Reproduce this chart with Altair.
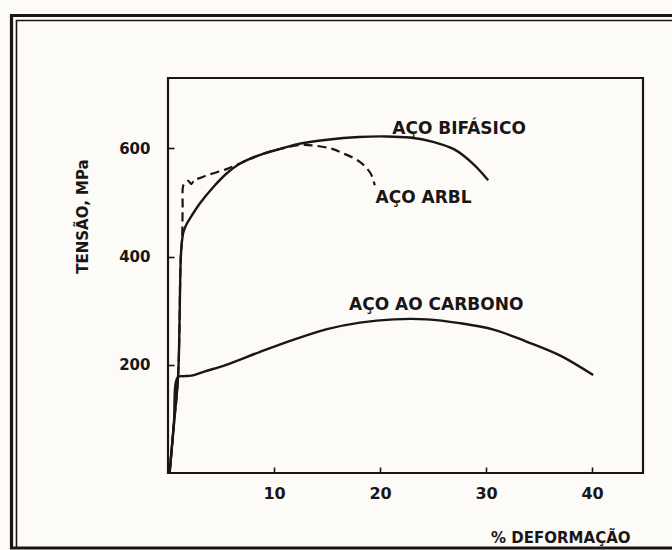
import altair as alt
import pandas as pd

# --- data (x = % deformação, y = tensão MPa) ---
carbon_x = [0.15, 0.55, 0.92, 1.5, 2.2, 3.5, 5.5, 8.7, 11.8, 15.0, 18.1, 21.3, 24.4, 27.5, 30.7, 33.8, 37.0, 40.1]
carbon_y = [0, 89, 177, 179, 180, 188, 200, 224, 246, 266, 278, 284, 284, 277, 265, 243, 217, 181]

bif_x = [0.15, 0.55, 0.95, 1.2, 1.3, 1.45, 1.7, 2.06, 3.0, 4.3, 5.5, 6.8, 8.7, 10.6, 12.5, 15.0, 18.0, 20.5, 22.8, 25.0, 27.0, 28.8, 30.2]
bif_y = [0, 89, 178, 395, 425, 445, 458, 470, 498, 529, 553, 572, 588, 599, 609, 616, 621, 622, 620, 612, 598, 571, 541]

arbl_x = [0.15, 0.55, 0.95, 1.2, 1.33, 1.38, 1.42, 1.6, 1.9, 2.2, 2.5, 3.0, 3.8, 5.6, 7.0, 8.7, 10.6, 12.5, 13.8, 15.3, 16.5, 18.1, 19.1, 19.5]
arbl_y = [0, 89, 178, 395, 435, 490, 530, 536, 540, 534, 542, 545, 551, 562, 574, 588, 599, 606, 605, 600, 591, 575, 554, 532]

x_ticks = [10, 20, 30, 40]
y_ticks = [200, 400, 600]

lab_text = ["AÇO BIFÁSICO", "AÇO ARBL", "AÇO AO CARBONO"]
lab_x = [27.45, 24.1, 25.3]
lab_y = [635, 509, 311]

INK = "#1a1616"
FONT = "DejaVu Sans"

rows = []
for name, xs, ys in [("carbono", carbon_x, carbon_y), ("bifasico", bif_x, bif_y), ("arbl", arbl_x, arbl_y)]:
    for i, (a, b) in enumerate(zip(xs, ys)):
        rows.append({"serie": name, "x": a, "y": b, "o": i})
df = pd.DataFrame(rows)
labels = pd.DataFrame({"t": lab_text, "x": lab_x, "y": lab_y})

xscale = alt.Scale(domain=[0, 44.8], nice=False, zero=False)
yscale = alt.Scale(domain=[0, 730], nice=False, zero=False)

xaxis = alt.Axis(values=x_ticks, title="% DEFORMAÇÃO", grid=False, domain=False,
                 offset=-6, tickSize=6, tickWidth=1.6, tickColor=INK,
                 labelPadding=12, labelFont=FONT, labelFontSize=16, labelFontWeight="bold",
                 labelColor=INK, titleFont=FONT, titleFontSize=15, titleFontWeight="bold",
                 titleColor=INK, titleX=462, titleY=70, titleAlign="right",
                 titleBaseline="middle", titleAnchor="end")
yaxis = alt.Axis(values=y_ticks, title="TENSÃO, MPa", grid=False, domain=False,
                 offset=-6, tickSize=6, tickWidth=1.6, tickColor=INK,
                 labelPadding=18, labelFont=FONT, labelFontSize=15, labelFontWeight="bold",
                 labelColor=INK, titleFont=FONT, titleFontSize=15, titleFontWeight="bold",
                 titleColor=INK, titleX=-92, titleY=138, titleAngle=270,
                 titleAlign="center", titleBaseline="middle")

base = alt.Chart(df)
INTERP = "catmull-rom"

arbl = base.transform_filter(alt.datum.serie == "arbl").mark_line(
    color=INK, strokeWidth=2.2, strokeDash=[9, 5], interpolate=INTERP
).encode(x=alt.X("x:Q", scale=xscale, axis=xaxis), y=alt.Y("y:Q", scale=yscale, axis=yaxis), order="o:Q")

bif = base.transform_filter(alt.datum.serie == "bifasico").mark_line(
    color=INK, strokeWidth=2.4, interpolate=INTERP
).encode(x=alt.X("x:Q", scale=xscale), y=alt.Y("y:Q", scale=yscale), order="o:Q")

carb = base.transform_filter(alt.datum.serie == "carbono").mark_line(
    color=INK, strokeWidth=2.4, interpolate=INTERP
).encode(x=alt.X("x:Q", scale=xscale), y=alt.Y("y:Q", scale=yscale), order="o:Q")

texts = alt.Chart(labels).mark_text(
    font=FONT, fontSize=17, fontWeight="bold", color=INK, align="center", baseline="middle"
).encode(x=alt.X("x:Q", scale=xscale), y=alt.Y("y:Q", scale=yscale), text="t:N")

# decorative double frame of the scanned figure
frame_outer = alt.Chart(pd.DataFrame({"a": [0]})).mark_rect(
    fill=None, stroke=INK, strokeWidth=3.2, clip=False
).encode(x=alt.value(-156.5), x2=alt.value(520), y=alt.value(-62.5), y2=alt.value(470))
frame_inner = alt.Chart(pd.DataFrame({"a": [0]})).mark_rect(
    fill=None, stroke=INK, strokeWidth=1.6, clip=False
).encode(x=alt.value(-151.5), x2=alt.value(520), y=alt.value(-57.5), y2=alt.value(470))

chart = alt.layer(frame_outer, frame_inner, arbl, bif, carb, texts).properties(
    width=475, height=395,
    padding={"left": 168, "top": 78, "right": 29, "bottom": 77},
    autosize=alt.AutoSizeParams(type="none"),
    background="#fcfbf8",
).configure_view(stroke=INK, strokeWidth=2.2)

chart.save("out.html", embed_options={"renderer": "svg", "actions": False})
